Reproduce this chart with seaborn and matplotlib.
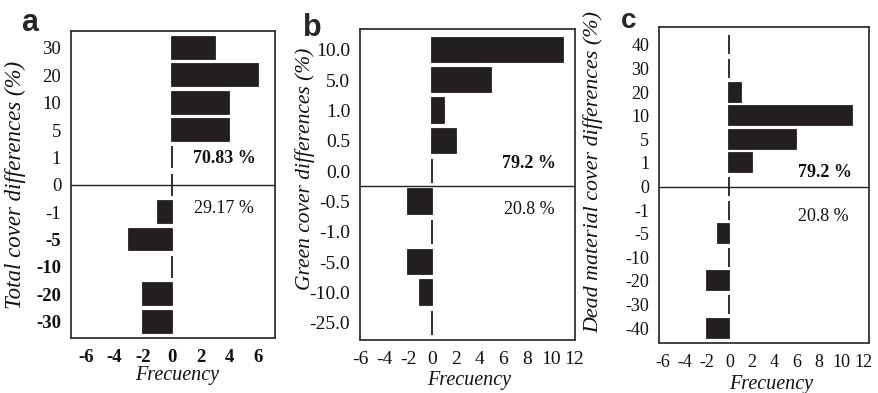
import matplotlib
matplotlib.use('Agg')
import matplotlib.pyplot as plt
import seaborn as sns
import pandas as pd

# ---- data ----
a_cats = ['30', '20', '10', '5', '1', '0', '-1', '-5', '-10', '-20', '-30']
a_vals = [3, 6, 4, 4, 0, 0, -1, -3, 0, -2, -2]
b_cats = ['10.0', '5.0', '1.0', '0.5', '0.0', '-0.5', '-1.0', '-5.0', '-10.0', '-25.0']
b_vals = [11, 5, 1, 2, 0, -2, 0, -2, -1, 0]
c_cats = ['40', '30', '20', '10', '5', '1', '0', '-1', '-5', '-10', '-20', '-30', '-40']
c_vals = [0, 0, 1, 11, 6, 2, 0, 0, -1, 0, -2, 0, -2]
xticks_a = [-6, -4, -2, 0, 2, 4, 6]
xticks_bc = [-6, -4, -2, 0, 2, 4, 6, 8, 10, 12]
pos_labels = ['70.83 %', '79.2 %', '79.2 %']
neg_labels = ['29.17 %', '20.8 %', '20.8 %']
y_titles = ['Total cover differences (%)', 'Green cover differences (%)',
            'Dead material cover differences (%)']
x_title = 'Frecuency'
panel_letters = ['a', 'b', 'c']

sns.set_style('white')
plt.rcParams['font.family'] = ['Liberation Serif', 'DejaVu Serif']

BAR = '#231f20'
fig = plt.figure(figsize=(8.79, 3.93), dpi=100)

W, H = 879.0, 393.0
def rect(l, r, t, b):
    return [l / W, 1 - b / H, (r - l) / W, (b - t) / H]

panels = [
    dict(cats=a_cats, vals=a_vals, rect=rect(71, 275, 31, 338), xlim=(-7.05, 7.2),
         ylim=(10.6, -0.62), zero=5, xticks=xticks_a, tsize=13.5, ysize=16.5,
         pos=(3.7, 4.05), neg=(3.6, 5.85), ylab=(-0.22, 0.5), xlab=(0.52, -0.09),
         letter=(21, 31, 22)),
    dict(cats=b_cats, vals=b_vals, rect=rect(360, 575, 29, 340), xlim=(-6.05, 12.05),
         ylim=(9.57, -0.69), zero=4.49, xticks=xticks_bc, tsize=14, ysize=15.5,
         pos=(8.2, 3.76), neg=(8.2, 5.25), ylab=(-0.21, 0.55), xlab=(0.507, -0.10),
         letter=(303, 36, 22)),
    dict(cats=c_cats, vals=c_vals, rect=rect(659, 869, 27, 343), xlim=(-6.3, 12.5),
         ylim=(12.63, -0.76), zero=6.0, xticks=xticks_bc, tsize=13, ysize=15.8,
         pos=(8.6, 5.42), neg=(8.45, 7.29), ylab=(-0.265, 0.54), xlab=(0.536, -0.10),
         letter=(621, 28, 20)),
]

for i, p in enumerate(panels):
    ax = fig.add_axes(p['rect'])
    df = pd.DataFrame({'cat': p['cats'], 'val': p['vals']})
    sns.barplot(data=df, x='val', y='cat', order=p['cats'], orient='h', ax=ax,
                color=BAR, saturation=1, width=0.8, edgecolor=BAR, linewidth=1.3)
    ax.axhline(p['zero'], color='#222222', lw=1.0, zorder=3)
    ax.set_xlim(*p['xlim'])
    ax.set_ylim(*p['ylim'])
    ax.set_xticks(p['xticks'])
    ax.set_xticklabels([str(t) for t in p['xticks']])
    ax.tick_params(axis='both', length=0, labelsize=p['tsize'], colors='#111111')
    ax.tick_params(axis='y', pad=7)
    ax.tick_params(axis='x', pad=8)
    if i == 0:
        for lbl in ax.get_xticklabels():
            lbl.set_fontweight('bold')
        for lbl in ax.get_yticklabels():
            if lbl.get_text() in ('-5', '-10', '-20', '-30'):
                lbl.set_fontweight('bold')
    for s in ax.spines.values():
        s.set_visible(True)
        s.set_color('#333333')
        s.set_linewidth(1.3)
    ax.set_ylabel(y_titles[i], fontsize=p['ysize'], fontstyle='italic', color='#111111')
    ax.set_xlabel(x_title, fontsize=14.5, fontstyle='italic', color='#111111')
    ax.yaxis.set_label_coords(*p['ylab'])
    ax.xaxis.set_label_coords(*p['xlab'])
    ax.text(p['pos'][0], p['pos'][1], pos_labels[i], ha='center', va='center',
            fontsize=13, fontweight='bold', color='#111111')
    ax.text(p['neg'][0], p['neg'][1], neg_labels[i], ha='center', va='center',
            fontsize=13, color='#111111')
    lx, ly, ls = p['letter']
    fig.text(lx / W, 1 - ly / H, panel_letters[i], ha='left', va='baseline',
             fontsize=ls, fontweight='bold', family=['Liberation Sans', 'DejaVu Sans'])

fig.savefig('out.png', dpi=100)
